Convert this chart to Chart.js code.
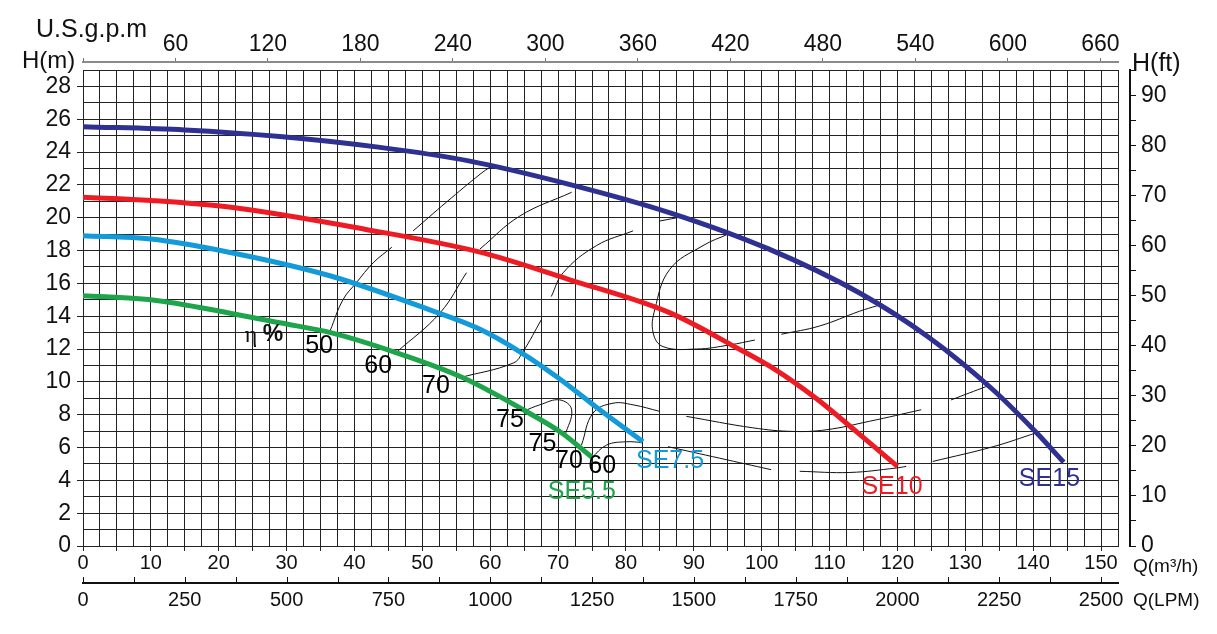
<!DOCTYPE html>
<html>
<head>
<meta charset="utf-8">
<title>Curvas SE</title>
<script src="https://cdn.jsdelivr.net/npm/chart.js@4.4.1/dist/chart.umd.min.js"></script>
<style>
  html, body { margin: 0; padding: 0; background: #fff; }
  #grafico { display: block; }
</style>
</head>
<body>
<canvas id="grafico" width="1217" height="634"></canvas>
<script>
// Vazão Q em m3/h, altura H em m
const se15Q = [0, 15, 29, 43.5, 57, 71.5, 86.5, 101, 114.5, 124.5, 134, 140.5, 144.5];
const se15H = [25.55, 25.35, 24.95, 24.3, 23.45, 22.05, 20.3, 18.1, 15.4, 12.75, 9.55, 6.9, 5.1];

const se10Q = [0, 10, 21.5, 41.5, 58.5, 71.5, 86.5, 96, 102, 108, 114, 120];
const se10H = [21.25, 21.05, 20.65, 19.3, 17.9, 16.25, 14.2, 12.15, 10.75, 9.0, 6.95, 4.85];

const se75Q = [0, 10, 21.5, 36.5, 51, 58.5, 64.5, 70, 75.5, 82.5];
const se75H = [18.9, 18.7, 17.9, 16.45, 14.4, 13.2, 11.8, 10.25, 8.5, 6.35];

const se55Q = [0, 10, 21.5, 29, 36.5, 46, 56, 65.5, 70.5, 75];
const se55H = [15.25, 15.0, 14.2, 13.6, 13.0, 11.8, 10.25, 8.15, 6.9, 5.4];

// Linhas de rendimento (pontos [Q, H])
const ef50a = [[36.4, 13.1], [38.3, 15.0], [40.3, 16.05], [42.75, 17.25], [45.5, 18.2]];
const ef50b = [[48.65, 19.2], [53.55, 20.95], [58.5, 22.65], [60.2, 23.15]];
const ef60a = [[46.2, 11.8], [52.6, 14.2], [56.5, 16.65]];
const ef60b = [[58.5, 18.1], [64.35, 20.1], [72, 21.55]];
const ef70a = [[55.5, 10.25], [63.4, 11.15], [64.85, 11.85], [67.55, 13.8]];
const ef70b = [[69, 15.2], [70.75, 16.65], [75.65, 18.3], [81.05, 19.2]];
const ef75a = [[64.85, 8.2], [67.3, 8.6], [70.25, 8.9], [72, 8.3], [71, 6.7]];
const ef70c = [[73.45, 6.15], [75.15, 8.1], [78.1, 8.7], [81.05, 8.6], [85, 8.2]];
const ef60c = [[74.9, 5.35], [77.15, 6.15], [80.05, 6.35], [82.5, 6.3]];
const ef70d = [[88.9, 7.9], [98.7, 7.2], [104.6, 6.98], [109.5, 7.08], [115.9, 7.6], [123.5, 8.3]];
const ef60d = [[86.2, 6.05], [93.8, 5.35], [101.4, 4.65]];
const ef60e = [[105.6, 4.55], [113, 4.48], [119.8, 4.75], [121.3, 4.85]];
const ef75b = [[95.05, 19.0], [91.35, 18.3], [86.45, 16.85], [84.25, 14.4], [84, 13.0], [85.45, 12.15], [90.4, 12.0], [95.3, 12.25], [99, 12.55]];
const ef70e = [[85, 19.8], [88.4, 20.07]];
const ef70f = [[102.9, 12.9], [108.5, 13.4], [114.4, 14.3], [117.1, 14.65]];
const ef70g = [[127.9, 8.9], [133.3, 9.75]];
const ef60f = [[125.2, 5.15], [134.1, 6.05], [140.5, 6.9]];

const linhasRendimento = [ef50a, ef50b, ef60a, ef60b, ef70a, ef70b, ef75a, ef70c, ef60c, ef70d, ef60d, ef60e, ef75b, ef70e, ef70f, ef70g, ef60f];

// Limites dos eixos e conversões
const Q_MAX = 152.5;
const H_MAX = 29;
const GPM_POR_M3H = 4.402868;
const LPM_POR_M3H = 1000 / 60;
const FT_POR_M = 3.28084;

const FONTE = "'Liberation Sans', Arial, sans-serif";
const GRADE = "#222";
const TRANSPARENTE = "rgba(0,0,0,0)";

const CORES = {
  se15: "#2e3192",
  se10: "#ed1c24",
  se75: "#139ad8",
  se55: "#1ea54b",
};

// Textos dentro do gráfico (posição em Q, H)
const rotulos = [
  { texto: "SE5.5", q: 73.5, h: 3.3, cor: CORES.se55, tam: 25 },
  { texto: "SE7.5", q: 86.5, h: 5.15, cor: CORES.se75, tam: 25 },
  { texto: "SE10", q: 119.2, h: 3.6, cor: CORES.se10, tam: 25 },
  { texto: "SE15", q: 142.4, h: 4.05, cor: CORES.se15, tam: 25 },
  { texto: "50", q: 34.8, h: 12.15, cor: "#000", tam: 25 },
  { texto: "60", q: 43.5, h: 10.95, cor: "#000", tam: 25 },
  { texto: "70", q: 52, h: 9.75, cor: "#000", tam: 25 },
  { texto: "75", q: 62.9, h: 7.7, cor: "#000", tam: 25 },
  { texto: "75", q: 67.7, h: 6.2, cor: "#000", tam: 25 },
  { texto: "70", q: 71.6, h: 5.2, cor: "#000", tam: 25 },
  { texto: "60", q: 76.5, h: 4.85, cor: "#000", tam: 25 },
];

function pontos(qs, hs) {
  return qs.map((q, i) => ({ x: q, y: hs[i] }));
}

function curvaBomba(nome, qs, hs, cor) {
  return {
    label: nome,
    data: pontos(qs, hs),
    showLine: true,
    borderColor: cor,
    borderWidth: 5,
    pointRadius: 0,
    cubicInterpolationMode: "monotone",
    fill: false,
  };
}

const datasets = [
  curvaBomba("SE15", se15Q, se15H, CORES.se15),
  curvaBomba("SE10", se10Q, se10H, CORES.se10),
  curvaBomba("SE7.5", se75Q, se75H, CORES.se75),
  curvaBomba("SE5.5", se55Q, se55H, CORES.se55),
];

linhasRendimento.forEach((linha, i) => {
  datasets.push({
    label: "rend" + i,
    data: linha.map((p) => ({ x: p[0], y: p[1] })),
    showLine: true,
    borderColor: "#111",
    borderWidth: 1,
    pointRadius: 0,
    tension: 0.4,
    fill: false,
  });
});

const fonteEixo = { family: FONTE, size: 23 };
const fonteEixoBaixo = { family: FONTE, size: 20 };

function eixoVazio(posicao, peso, tamanho) {
  return {
    type: "linear",
    axis: posicao === "top" || posicao === "bottom" ? "x" : "y",
    position: posicao,
    weight: peso,
    min: 0,
    max: 1,
    ticks: { display: false },
    grid: { display: false, drawTicks: false },
    border: { display: false },
    afterFit: (s) => {
      if (posicao === "top" || posicao === "bottom") s.height = tamanho;
      else s.width = tamanho;
    },
  };
}

const pluginFundoTextos = {
  id: "fundoTextos",
  beforeDraw(chart) {
    const ctx = chart.ctx;
    ctx.save();
    ctx.fillStyle = "#fff";
    ctx.fillRect(0, 0, chart.width, chart.height);
    ctx.restore();
  },
  afterDraw(chart) {
    const { ctx, scales } = chart;
    ctx.save();

    // marcas do eixo LPM apontando para cima
    const lpm = scales.xLpm;
    ctx.strokeStyle = "#111";
    ctx.lineWidth = 1;
    lpm.ticks.forEach((t) => {
      if (t.value % 125 !== 0) return;
      const px = Math.round(lpm.getPixelForValue(t.value)) + 0.5;
      ctx.beginPath();
      ctx.moveTo(px, lpm.top);
      ctx.lineTo(px, lpm.top - 6);
      ctx.stroke();
    });

    // títulos dos eixos
    ctx.fillStyle = "#111";
    ctx.textBaseline = "alphabetic";
    ctx.textAlign = "left";
    ctx.font = "25px " + FONTE;
    ctx.fillText("U.S.g.p.m", 36, 37);
    ctx.font = "24px " + FONTE;
    ctx.fillText("H(m)", 22, 68);
    ctx.font = "25px " + FONTE;
    ctx.fillText("H(ft)", scales.yFt.left + 2, 71);
    ctx.textBaseline = "middle";
    ctx.font = "19px " + FONTE;
    ctx.fillText("Q(m³/h)", 1133, 567);
    ctx.fillText("Q(LPM)", 1133, 601);

    // rótulos das curvas
    const sx = scales.x;
    const sy = scales.y;
    ctx.textAlign = "center";
    rotulos.forEach((r) => {
      ctx.font = r.tam + "px " + FONTE;
      ctx.fillStyle = r.cor;
      ctx.fillText(r.texto, sx.getPixelForValue(r.q), sy.getPixelForValue(r.h));
    });

    // η %
    ctx.fillStyle = "#111";
    ctx.font = "24px 'Liberation Serif', serif";
    ctx.fillText("η", sx.getPixelForValue(24.75), sy.getPixelForValue(12.8));
    ctx.font = "bold 23px " + FONTE;
    ctx.fillText("%", sx.getPixelForValue(28), sy.getPixelForValue(12.9));

    ctx.restore();
  },
};

new Chart(document.getElementById("grafico"), {
  type: "scatter",
  data: { datasets: datasets },
  options: {
    responsive: false,
    animation: false,
    devicePixelRatio: 1,
    layout: { padding: 0 },
    plugins: {
      legend: { display: false },
      tooltip: { enabled: false },
    },
    scales: {
      x: {
        type: "linear",
        position: "bottom",
        weight: 0,
        min: 0,
        max: Q_MAX,
        ticks: {
          stepSize: 2.5,
          autoSkip: false,
          maxRotation: 0,
          padding: 0,
          color: "#111",
          font: fonteEixoBaixo,
          callback: (v) => (v % 10 === 0 ? v : ""),
        },
        grid: {
          color: GRADE,
          lineWidth: 1,
          tickLength: 5,
          tickColor: (c) => (c.tick && c.tick.value % 5 === 0 ? GRADE : TRANSPARENTE),
        },
        border: { display: true, color: GRADE, width: 1 },
        afterFit: (s) => { s.height = 37; },
      },
      xLpm: {
        type: "linear",
        axis: "x",
        position: "bottom",
        weight: 1,
        bounds: "data",
        min: 0,
        max: Q_MAX * LPM_POR_M3H,
        ticks: {
          stepSize: 125,
          includeBounds: false,
          autoSkip: false,
          maxRotation: 0,
          padding: 0,
          color: "#111",
          font: fonteEixoBaixo,
          callback: (v) => (v % 250 === 0 ? v : ""),
        },
        grid: { drawOnChartArea: false, tickLength: 5, tickColor: TRANSPARENTE },
        border: { display: true, color: "#111", width: 2 },
        afterFit: (s) => { s.height = 51; },
      },
      gapTop: eixoVazio("top", 0, 8),
      xGpm: {
        type: "linear",
        axis: "x",
        position: "top",
        weight: 1,
        bounds: "data",
        min: 0,
        max: Q_MAX * GPM_POR_M3H,
        ticks: {
          stepSize: 60,
          includeBounds: false,
          autoSkip: false,
          maxRotation: 0,
          padding: 0,
          color: "#111",
          font: fonteEixo,
          callback: (v) => (v === 0 ? "" : v),
        },
        grid: { drawOnChartArea: false, tickLength: 4, tickColor: "#777" },
        border: { display: true, color: "#8a8a8a", width: 2 },
        afterFit: (s) => { s.height = 62; },
      },
      y: {
        type: "linear",
        position: "left",
        min: 0,
        max: H_MAX,
        ticks: {
          stepSize: 1,
          autoSkip: false,
          padding: 6,
          color: "#111",
          font: fonteEixo,
          callback: (v) => (v % 2 === 0 ? v : ""),
        },
        grid: {
          color: GRADE,
          lineWidth: 1,
          tickLength: 6,
          tickColor: (c) => (c.tick && c.tick.value % 2 === 0 ? GRADE : TRANSPARENTE),
        },
        border: { display: true, color: GRADE, width: 1 },
        afterFit: (s) => { s.width = 83; },
      },
      gapRight: eixoVazio("right", 0, 12),
      yFt: {
        type: "linear",
        axis: "y",
        position: "right",
        weight: 1,
        bounds: "data",
        min: 0,
        max: H_MAX * FT_POR_M,
        ticks: {
          stepSize: 5,
          includeBounds: false,
          autoSkip: false,
          padding: 5,
          color: "#111",
          font: fonteEixo,
          callback: (v) => (v % 10 === 0 ? v : ""),
        },
        grid: { drawOnChartArea: false, tickLength: 6, tickColor: "#111" },
        border: { display: true, color: "#111", width: 2 },
        afterFit: (s) => { s.width = 87; },
      },
    },
  },
  plugins: [pluginFundoTextos],
});
</script>
</body>
</html>
